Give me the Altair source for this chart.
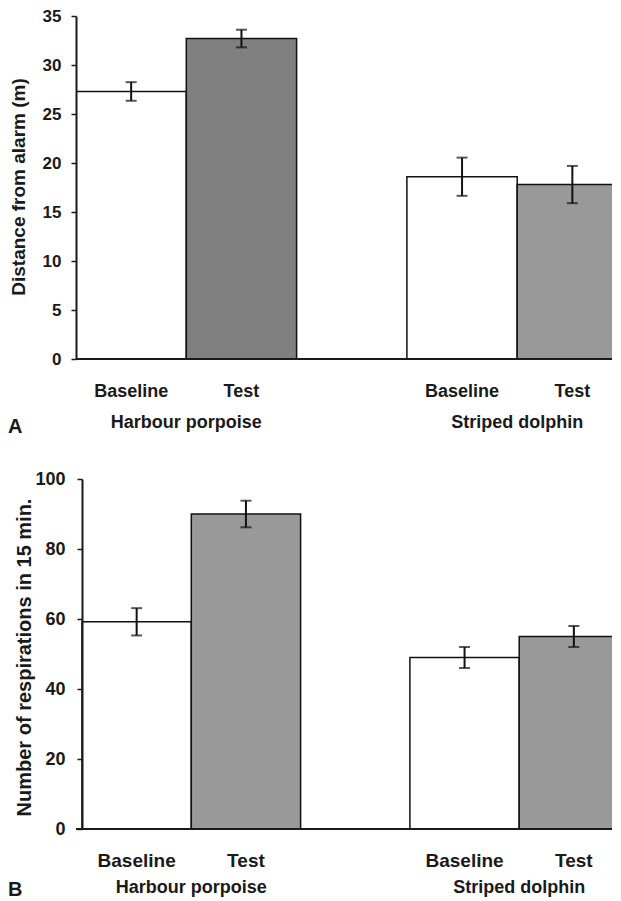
import altair as alt
import pandas as pd

# ---- data ----
species = ["Harbour porpoise", "Harbour porpoise", "Striped dolphin", "Striped dolphin"]
conditions = ["Baseline", "Test", "Baseline", "Test"]
distance_mean = [27.3, 32.7, 18.6, 17.8]
distance_err = [0.95, 0.9, 1.95, 1.9]
resp_mean = [59.2, 90.0, 49.0, 55.0]
resp_err = [3.9, 3.8, 3.0, 3.0]
species_names = ["Harbour porpoise", "Striped dolphin"]
panel_letters = ["A", "B"]
y_title_a = "Distance from alarm (m)"
y_title_b = "Number of respirations in 15 min."

# ---- styles ----
FILLS_A = ["#ffffff", "#808080", "#ffffff", "#999999"]
FILLS_B = ["#ffffff", "#999999", "#ffffff", "#999999"]
FONT = "Liberation Sans"
INK = "#1a1a1a"
W = 537

keys = [s + "|" + c for s, c in zip(species, conditions)]
slot_keys = keys[:2] + ["gap"] + keys[2:]


def panel(means, errs, fills, ymax, yvals, label_expr, title, letter,
          height, x0, slot, axis_offset, tick_lab_size, x_lab_size, title_size,
          lab_pad_y, lab_pad_x, title_x, title_y, group_y, letter_x, letter_y):
    df = pd.DataFrame({
        "species": species,
        "condition": conditions,
        "key": keys,
        "mean": means,
        "lo": [m - e for m, e in zip(means, errs)],
        "hi": [m + e for m, e in zip(means, errs)],
    })
    xscale = alt.Scale(domain=slot_keys, range=[x0, x0 + 5 * slot],
                       paddingInner=0, paddingOuter=0)
    xaxis = alt.Axis(
        labelExpr="indexof(datum.value, '|') >= 0 ? split(datum.value, '|')[1] : ''",
        ticks=False, tickSize=0, labelAngle=0, labelPadding=lab_pad_x,
        labelFont=FONT, labelFontSize=x_lab_size, labelFontWeight="bold",
        labelColor=INK, domain=False, title=None, labelBound=False)
    yscale = alt.Scale(domain=[0, ymax], nice=False, zero=True)
    yaxis = alt.Axis(
        values=yvals, labelExpr=label_expr, grid=False, tickSize=5,
        tickWidth=1.5, tickColor=INK, domainColor=INK, domainWidth=2,
        labelFont=FONT, labelFontSize=tick_lab_size, labelFontWeight="bold",
        labelColor=INK, labelPadding=lab_pad_y, offset=axis_offset,
        titleFont=FONT, titleFontSize=title_size, titleFontWeight="bold",
        titleColor=INK, titleX=title_x, titleY=title_y, titleAngle=-90,
        titleAlign="center", titleBaseline="middle", zindex=1)

    base = alt.Chart(df)
    bars = base.mark_bar(clip=True, stroke="#111111", strokeWidth=1.5).encode(
        x=alt.X("key:N", scale=xscale, axis=xaxis),
        y=alt.Y("mean:Q", scale=yscale, axis=yaxis, title=title),
        fill=alt.Fill("key:N", scale=alt.Scale(domain=keys, range=fills), legend=None),
    )
    rule = base.mark_rule(color="#111111", strokeWidth=2).encode(
        x=alt.X("key:N"), y=alt.Y("lo:Q", title=title), y2="hi:Q")
    cap_lo = base.mark_tick(color="#111111", size=11, thickness=2).encode(
        x=alt.X("key:N"), y=alt.Y("lo:Q", title=title))
    cap_hi = base.mark_tick(color="#111111", size=11, thickness=2).encode(
        x=alt.X("key:N"), y=alt.Y("hi:Q", title=title))

    # x-axis line across the whole plot width
    baseline = alt.Chart(pd.DataFrame({"zero": [0]})).mark_rule(
        color=INK, strokeWidth=2).encode(
        y=alt.Y("zero:Q", title=title), x=alt.value(0), x2=alt.value(W))

    gdf = pd.DataFrame({"species": species_names,
                        "key": [s + "|Test" for s in species_names]})
    groups = alt.Chart(gdf).mark_text(
        font=FONT, fontSize=18, fontWeight="bold", color=INK,
        align="center", baseline="alphabetic").encode(
        x=alt.X("key:N", bandPosition=0), y=alt.value(group_y), text="species:N")

    ldf = pd.DataFrame({"letter": [letter]})
    let = alt.Chart(ldf).mark_text(
        font=FONT, fontSize=20, fontWeight="bold", color=INK,
        align="left", baseline="alphabetic").encode(
        x=alt.value(letter_x), y=alt.value(letter_y), text="letter:N")

    return alt.layer(bars, rule, cap_lo, cap_hi, baseline, groups, let).properties(
        width=W, height=height)


chart_a = panel(distance_mean, distance_err, FILLS_A, 35, list(range(0, 36, 5)),
                "datum.label", y_title_a, panel_letters[0],
                height=343, x0=0, slot=110.3, axis_offset=0, tick_lab_size=17,
                x_lab_size=18, title_size=19, lab_pad_y=10, lab_pad_x=23,
                title_x=-57.5, title_y=170.5, group_y=412, letter_x=-68,
                letter_y=417)

chart_b = panel(resp_mean, resp_err, FILLS_B, 100, list(range(0, 101, 10)),
                "datum.value % 20 === 0 ? datum.label : ''", y_title_b,
                panel_letters[1],
                height=350, x0=6, slot=109.3, axis_offset=-6, tick_lab_size=18,
                x_lab_size=19, title_size=20, lab_pad_y=12, lab_pad_x=22,
                title_x=-57.5, title_y=178, group_y=414, letter_x=-68,
                letter_y=417)

chart = alt.vconcat(chart_a, chart_b, spacing=120, bounds="flush").resolve_scale(
    x="independent", y="independent", fill="independent"
).properties(
    padding={"left": 0, "top": -1, "right": -16, "bottom": 2},
).configure(background="white").configure_view(stroke=None, strokeWidth=0)

chart.save("out.html", embed_options={"renderer": "svg", "actions": False})
